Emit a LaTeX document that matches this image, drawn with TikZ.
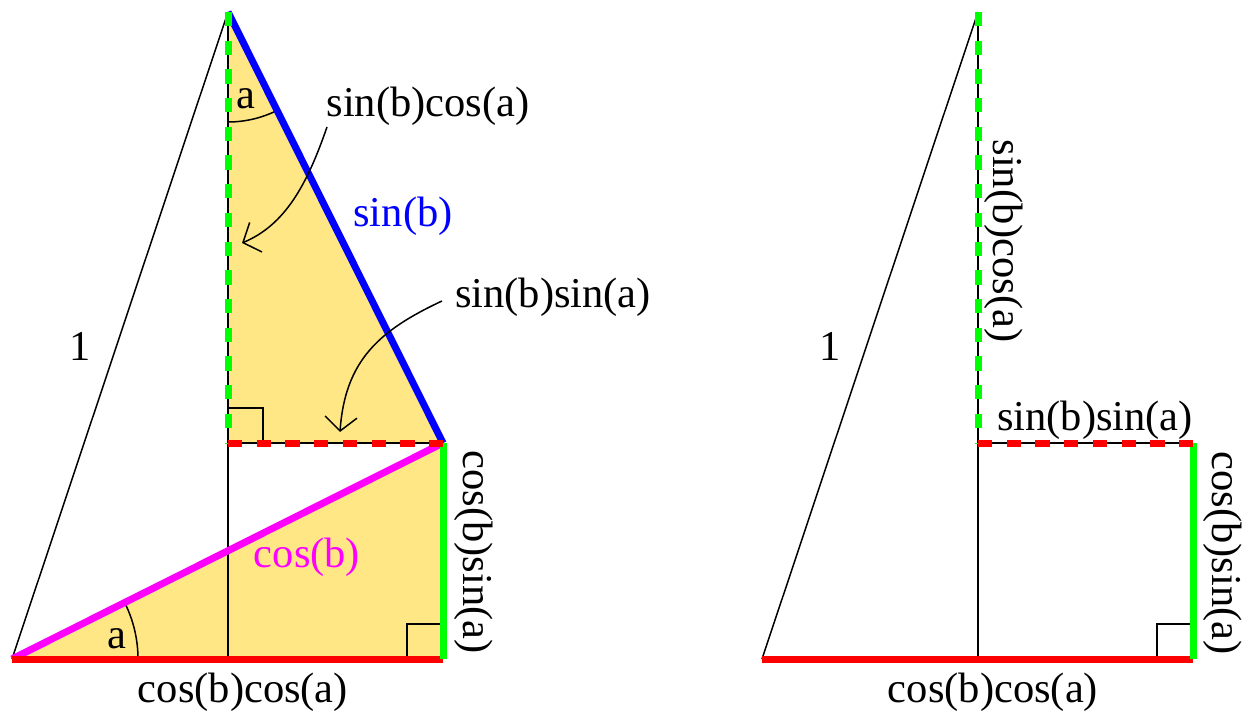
\documentclass[tikz,border=0pt]{standalone}
\usepackage{fontspec}
\setmainfont{Liberation Serif}
\newfontfamily\tmsfont{Liberation Serif}
\usetikzlibrary{arrows.meta}
\definecolor{fillyel}{RGB}{255,231,133}
\definecolor{grn}{RGB}{0,255,0}
\definecolor{rd}{RGB}{255,0,0}
\definecolor{bl}{RGB}{0,0,255}
\definecolor{mg}{RGB}{255,0,255}
\begin{document}
\begin{tikzpicture}[x=1pt,y=-1pt,
  thinline/.style={black,line width=1.5pt},
  seg/.style={line width=7pt},
  dashseg/.style={line width=7pt,dash pattern=on 14.3pt off 14.4pt},
  lbl/.style={font=\tmsfont\fontsize{42.5}{50}\selectfont,inner sep=0pt,anchor=base},
  arr/.style={line width=1.5pt,-{Straight Barb[length=14pt,width=32pt,line width=1.5pt]}}]
\useasboundingbox (0,0) rectangle (1245,711);
% ---------- left figure ----------
\coordinate (O) at (12,659);
\coordinate (C) at (443,659);
\coordinate (T) at (228,12);
\coordinate (P) at (443,443);
\coordinate (F) at (228,443);
\coordinate (B) at (228,659);
\fill[fillyel] (T) -- (F) -- (P) -- cycle;
\fill[fillyel] (O) -- (C) -- (P) -- cycle;
\draw[thinline] (O) -- (T);
\draw[thinline] (T) -- (B);
\draw[thinline] (F) -- (P);
% right angle marks
\draw[thinline] (228,408) -- (263,408) -- (263,443);
\draw[thinline] (407,659) -- (407,624) -- (443,624);
% angle arcs
\draw[thinline] (228,122) arc[start angle=90,end angle=63.5,radius=110];
\draw[thinline] (138,659) arc[start angle=0,end angle=-26.6,radius=126];
% coloured segments
\draw[seg,bl] (T) -- (P);
\draw[seg,mg] (O) -- (P);
\draw[seg,rd] (O) -- (C);
\draw[seg,grn] (P) -- (C);
\draw[dashseg,grn] (T) -- (F);
\draw[dashseg,rd] (F) -- (P);
% labels
\node[lbl] (one) at (80,360) {1};
\node[lbl] (at) at (246,109) {a};
\node[lbl] (ab) at (117,648) {a};
\node[lbl] (sbca) at (428,117) {sin(b)cos(a)};
\node[lbl,text=bl] (sb) at (403,227) {sin(b)};
\node[lbl] (sbsa) at (553,308) {sin(b)sin(a)};
\node[lbl,text=mg] (cb) at (307,567) {cos(b)};
\node[lbl] (cbca) at (243,702) {cos(b)cos(a)};
\node[lbl,rotate=-90] (cbsa) at (463,552) {cos(b)sin(a)};
% arrows
\coordinate (a1s) at (327,127);
\coordinate (a1e) at (242,243);
\coordinate (a2s) at (442,301);
\coordinate (a2e) at (340,432);
\draw[arr] (a1s) .. controls (307,185) and (285,225) .. (a1e);
\draw[arr] (a2s) .. controls (380,330) and (345,360) .. (a2e);
% ---------- right figure ----------
\coordinate (O2) at (762,659);
\coordinate (C2) at (1193,659);
\coordinate (T2) at (978,12);
\coordinate (P2) at (1193,443);
\coordinate (F2) at (978,443);
\coordinate (B2) at (978,659);
\draw[thinline] (O2) -- (T2);
\draw[thinline] (T2) -- (B2);
\draw[thinline] (F2) -- (P2);
\draw[thinline] (1157,659) -- (1157,624) -- (1193,624);
\draw[seg,rd] (O2) -- (C2);
\draw[seg,grn] (P2) -- (C2);
\draw[dashseg,grn] (T2) -- (F2);
\draw[dashseg,rd] (F2) -- (P2);
\node[lbl] (one2) at (830,360) {1};
\node[lbl,rotate=-90] (sbca2) at (993,241) {sin(b)cos(a)};
\node[lbl] (sbsa2) at (1095,430) {sin(b)sin(a)};
\node[lbl,rotate=-90] (cbsa2) at (1212,553) {cos(b)sin(a)};
\node[lbl] (cbca2) at (993,702) {cos(b)cos(a)};
\end{tikzpicture}
\end{document}
